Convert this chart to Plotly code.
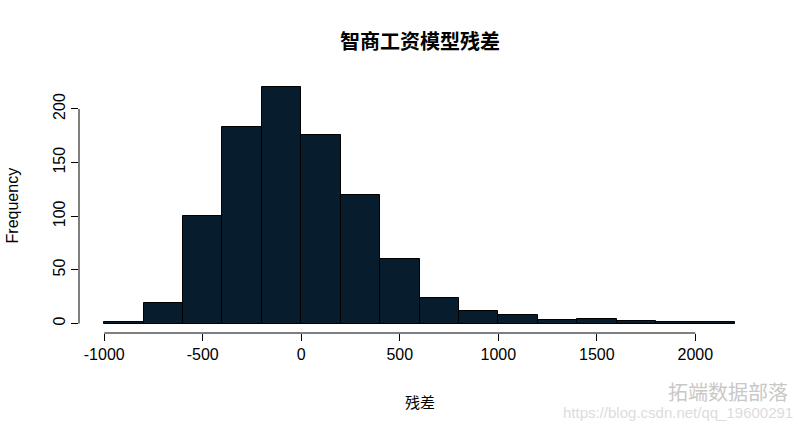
import plotly.graph_objects as go

# Data
bin_edges = [-1000, -800, -600, -400, -200, 0, 200, 400, 600, 800, 1000,
             1200, 1400, 1600, 1800, 2000, 2200]
counts = [1, 19, 100, 183, 220, 176, 120, 60, 24, 12, 8, 3, 4, 2, 1, 1]
x_ticks = [-1000, -500, 0, 500, 1000, 1500, 2000]
x_tick_labels = ["-1000", "-500", "0", "500", "1000", "1500", "2000"]
y_ticks = [0, 50, 100, 150, 200]
y_tick_labels = ["0", "50", "100", "150", "200"]
title_text = "智商工资模型残差"
x_label = "残差"
y_label = "Frequency"

centers = [(a + b) / 2 for a, b in zip(bin_edges[:-1], bin_edges[1:])]
widths = [b - a for a, b in zip(bin_edges[:-1], bin_edges[1:])]

FONT = "Liberation Sans, Arial, sans-serif"
CJK = "Noto Sans CJK SC, sans-serif"

fig = go.Figure()
fig.add_trace(go.Bar(
    x=centers, y=counts, width=widths,
    marker=dict(color="#071d2d", line=dict(color="#000000", width=1)),
    hoverinfo="x+y", showlegend=False,
))

xr = [bin_edges[0] - 0.04 * (bin_edges[-1] - bin_edges[0]),
      bin_edges[-1] + 0.04 * (bin_edges[-1] - bin_edges[0])]
ymax = max(counts)
yr = [-0.04 * ymax, ymax * 1.04]

fig.update_layout(
    width=800, height=431,
    margin=dict(l=79, r=40, t=78, b=98),
    paper_bgcolor="white", plot_bgcolor="white",
    bargap=0,
    xaxis=dict(range=xr, tickvals=x_ticks, ticktext=x_tick_labels,
               ticks="outside", ticklen=7, tickwidth=1, tickcolor="black",
               showgrid=False, zeroline=False, showline=False, automargin=False,
               tickfont=dict(family=FONT, size=16, color="black")),
    yaxis=dict(range=yr, tickvals=y_ticks, ticktext=y_tick_labels,
               ticks="outside", ticklen=7, tickwidth=1, tickcolor="black",
               tickangle=-90, automargin=False,
               showgrid=False, zeroline=False, showline=False,
               tickfont=dict(family=FONT, size=16, color="black")),
    shapes=[
        dict(type="line", xref="x", yref="paper", x0=x_ticks[0], x1=x_ticks[-1],
             y0=0, y1=0, line=dict(color="black", width=1)),
        dict(type="line", xref="paper", yref="y", x0=0, x1=0,
             y0=y_ticks[0], y1=y_ticks[-1], line=dict(color="black", width=1)),
    ],
    annotations=[
        dict(text="<b>" + title_text + "</b>", xref="paper", yref="paper",
             x=0.5, y=1.149, showarrow=False, xanchor="center", yanchor="middle",
             font=dict(family=CJK, size=20, color="black")),
        dict(text=x_label, xref="paper", yref="paper", x=0.5, y=-0.27,
             showarrow=False, xanchor="center", yanchor="middle",
             font=dict(family=CJK, size=15, color="black")),
        dict(text=y_label, xref="paper", yref="paper", x=-0.097, y=0.5,
             textangle=-90, showarrow=False, xanchor="center", yanchor="middle",
             font=dict(family=FONT, size=16, color="black")),
        dict(text="拓端数据部落", xref="paper", yref="paper", x=1.044, y=-0.23,
             showarrow=False, xanchor="right", yanchor="middle",
             font=dict(family=CJK, size=20, color="#c8c8c8")),
        dict(text="https://blog.csdn.net/qq_19600291", xref="paper", yref="paper",
             x=1.051, y=-0.31, showarrow=False, xanchor="right", yanchor="middle",
             font=dict(family=FONT, size=15, color="#dcdcdc")),
    ],
)

fig.write_html("out.html",
               config={"displayModeBar": False},
               post_script="document.body.style.margin='0';document.body.style.overflow='hidden';")
